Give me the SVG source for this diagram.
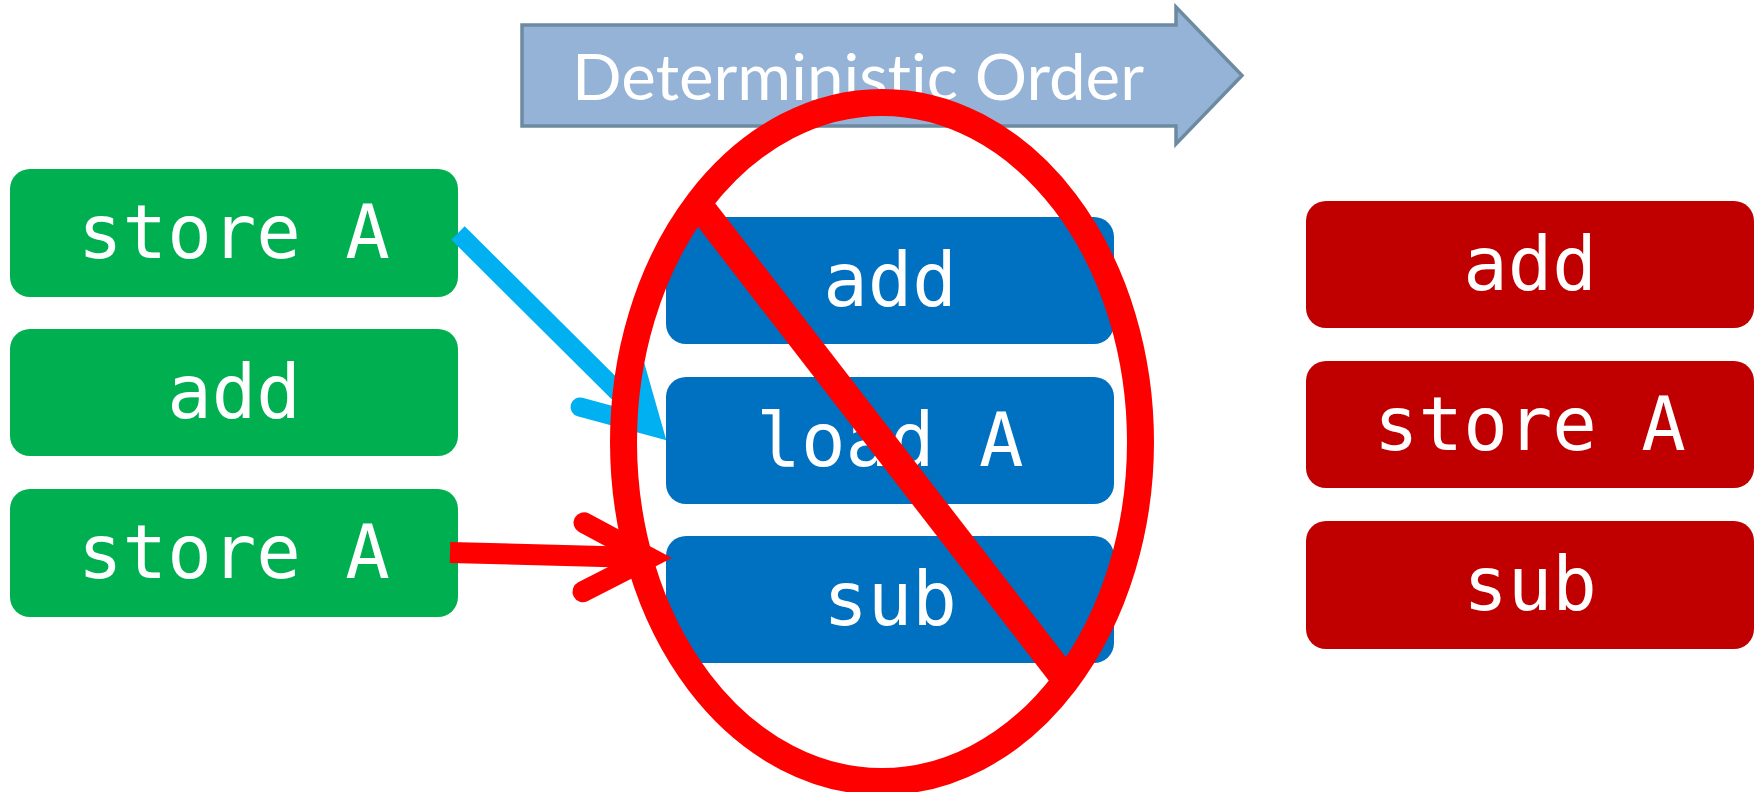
<svg xmlns="http://www.w3.org/2000/svg" width="1763" height="792" viewBox="0 0 1763 792">
<style>
.box{stroke:none}
.g{fill:#00B050}
.b{fill:#0070C0}
.r{fill:#C00000}
.t{font-family:"DejaVu Sans Mono","Liberation Mono",monospace;font-size:74px;fill:#FFFFFF;text-anchor:middle}
.cy{stroke:#00B0F0;stroke-width:19;fill:none}
.rd{stroke:#FF0000;stroke-width:21;fill:none}
</style>
<rect width="1763" height="792" fill="#FFFFFF"/>
<g id="banner">
<path d="M522,25 H1176 V7 L1242,75.5 L1176,144 V126 H522 Z" fill="#95B3D7" stroke="#6C8BA1" stroke-width="3.5"/>
<text x="858" y="100" font-family="Lato,'Liberation Sans',sans-serif" font-size="63" fill="#FFFFFF" text-anchor="middle" textLength="572" lengthAdjust="spacingAndGlyphs" style="font-variant-ligatures:none;font-feature-settings:'liga' 0">Deterministic Order</text>
</g>
<g id="g1"><rect class="box g" x="10" y="169" width="448" height="128" rx="20"/><text class="t" x="234" y="258">store A</text></g>
<g id="g2"><rect class="box g" x="10" y="329" width="448" height="127" rx="20"/><text class="t" x="234" y="418">add</text></g>
<g id="g3"><rect class="box g" x="10" y="489" width="448" height="128" rx="20"/><text class="t" x="234" y="578">store A</text></g>
<g id="b1"><rect class="box b" x="666" y="217" width="448" height="127" rx="20"/><text class="t" x="890" y="306">add</text></g>
<g id="b2"><rect class="box b" x="666" y="377" width="448" height="127" rx="20"/><text class="t" x="890" y="466">load A</text></g>
<g id="b3"><rect class="box b" x="666" y="536" width="448" height="127" rx="20"/><text class="t" x="890" y="625">sub</text></g>
<g id="r1"><rect class="box r" x="1306" y="201" width="448" height="127" rx="20"/><text class="t" x="1530" y="290">add</text></g>
<g id="r2"><rect class="box r" x="1306" y="361" width="448" height="127" rx="20"/><text class="t" x="1530" y="450">store A</text></g>
<g id="r3"><rect class="box r" x="1306" y="521" width="448" height="128" rx="20"/><text class="t" x="1530" y="610">sub</text></g>
<g id="connectors">
<line class="cy" x1="458" y1="233" x2="652.6" y2="426.6"/>
<polyline class="cy" points="580,407 652.6,426.6 632,354.5" stroke-linejoin="miter" stroke-linecap="round" stroke-miterlimit="10"/>
<line class="rd" x1="450" y1="552.5" x2="649.3" y2="557.8"/>
<polyline class="rd" points="584,522.7 649.3,557.8 583,591.7" stroke-linejoin="miter" stroke-linecap="round" stroke-miterlimit="10"/>
</g>
<g id="no-symbol">
<ellipse cx="882" cy="442" rx="258.5" ry="339.5" fill="none" stroke="#FF0000" stroke-width="27"/>
<line x1="700" y1="206.5" x2="1064" y2="677.5" stroke="#FF0000" stroke-width="28"/>
</g>
</svg>
